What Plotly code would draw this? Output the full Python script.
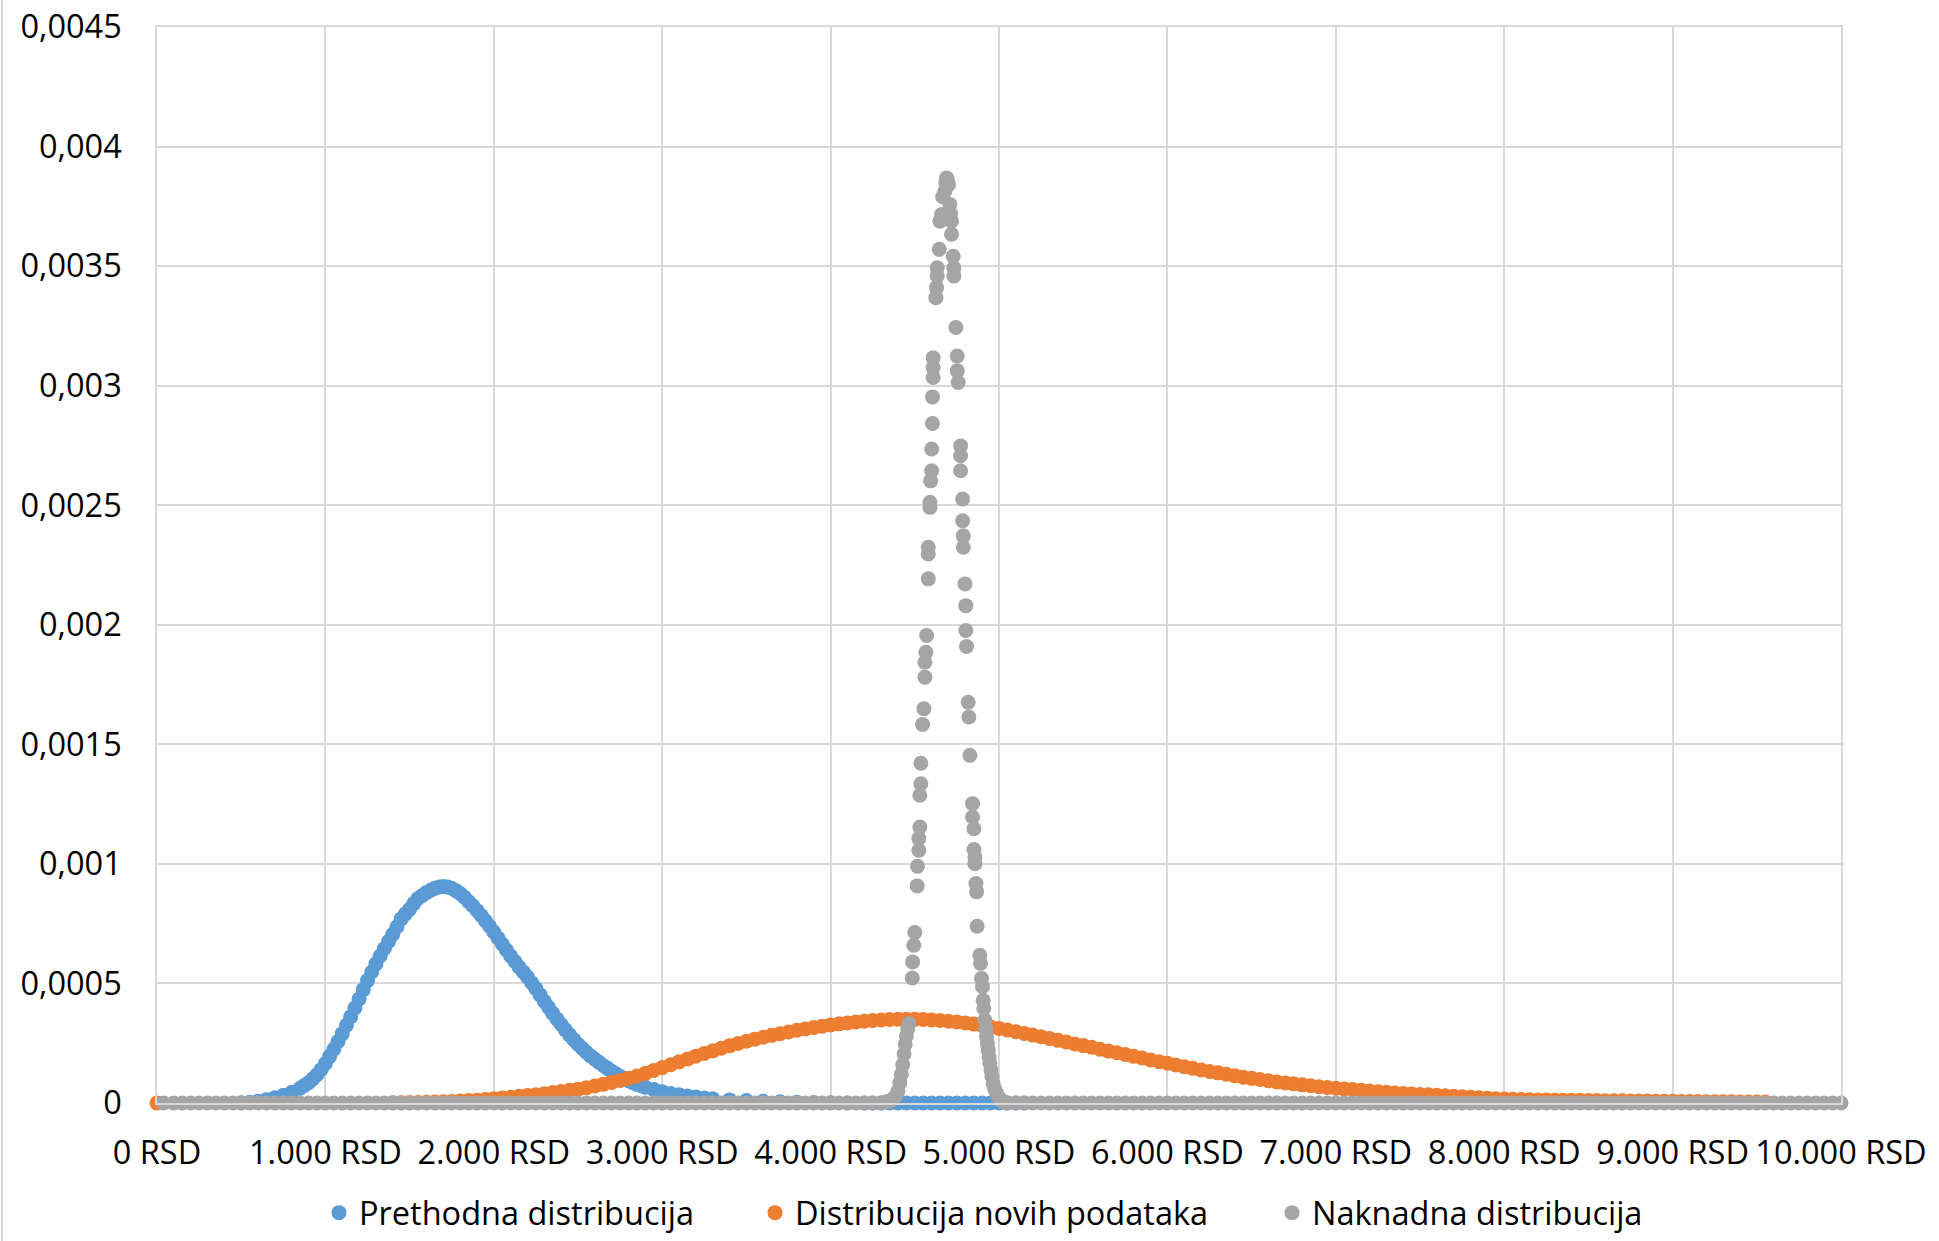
import plotly.graph_objects as go

# ---------------- data ----------------
series_names = ["Prethodna distribucija", "Distribucija novih podataka", "Naknadna distribucija"]
series_colors = ["#5B9BD5", "#ED7D31", "#A5A5A5"]

x_tick_vals = [0, 1000, 2000, 3000, 4000, 5000, 6000, 7000, 8000, 9000, 10000]
x_tick_text = ["0 RSD", "1.000 RSD", "2.000 RSD", "3.000 RSD", "4.000 RSD", "5.000 RSD",
               "6.000 RSD", "7.000 RSD", "8.000 RSD", "9.000 RSD", "10.000 RSD"]
y_tick_vals = [0, 0.0005, 0.001, 0.0015, 0.002, 0.0025, 0.003, 0.0035, 0.004, 0.0045]
y_tick_text = ["0", "0,0005", "0,001", "0,0015", "0,002", "0,0025", "0,003", "0,0035", "0,004", "0,0045"]

# Prior (blue)
prior_x = [
    500, 550, 600, 650, 700, 750, 800, 850,
    875, 900, 925, 950, 975, 1000, 1025, 1050, 1075,
    1100, 1125, 1150, 1175, 1200, 1225, 1250, 1275, 1300,
    1325, 1350, 1375, 1400, 1425, 1450, 1475, 1500, 1525,
    1550, 1575, 1600, 1625, 1650, 1675, 1700, 1725, 1750,
    1775, 1800, 1825, 1850, 1875, 1900, 1925, 1950, 1975,
    2000, 2025, 2050, 2075, 2100, 2125, 2150, 2175, 2200,
    2225, 2250, 2275, 2300, 2325, 2350, 2375, 2400, 2425,
    2450, 2475, 2500, 2525, 2550, 2575, 2600, 2625, 2650,
    2675, 2700, 2725, 2750, 2775, 2800, 2825, 2850, 2875,
    2900, 2950, 3000, 3050, 3100, 3150, 3200, 3250, 3300,
    3400, 3500, 3600, 3700, 3800, 3900, 4000, 4100, 4200,
    4250, 4300, 4350, 4400, 4450, 4500, 4550, 4600, 4650, 4700,
    4750, 4800, 4850, 4900, 4950, 5000, 5050, 5100, 5150,
]
prior_y = [
    0.000001, 0.000003, 0.000007, 0.000014, 0.000022, 0.000032, 0.000045, 0.000062,
    0.000073, 0.000085, 0.000101, 0.000118, 0.000140, 0.000165, 0.000194, 0.000225, 0.000257,
    0.000290, 0.000325, 0.000360, 0.000397, 0.000435, 0.000474, 0.000512, 0.000548, 0.000582,
    0.000615, 0.000646, 0.000676, 0.000705, 0.000737, 0.000770, 0.000791, 0.000810, 0.000834,
    0.000855, 0.000868, 0.000880, 0.000890, 0.000898, 0.000903, 0.000905, 0.000903, 0.000898,
    0.000888, 0.000876, 0.000861, 0.000843, 0.000825, 0.000805, 0.000784, 0.000762, 0.000739,
    0.000715, 0.000690, 0.000665, 0.000640, 0.000615, 0.000592, 0.000569, 0.000548, 0.000527,
    0.000503, 0.000478, 0.000452, 0.000425, 0.000400, 0.000375, 0.000351, 0.000328, 0.000306,
    0.000285, 0.000265, 0.000246, 0.000229, 0.000212, 0.000197, 0.000183, 0.000170, 0.000157,
    0.000145, 0.000133, 0.000122, 0.000111, 0.000102, 0.000093, 0.000085, 0.000078, 0.000072,
    0.000066, 0.000056, 0.000047, 0.000040, 0.000034, 0.000029, 0.000025, 0.000021, 0.000018,
    0.000013, 0.000010, 0.000007, 0.000005, 0.000003, 0.000002, 0.000001, 0, 0,
    0, 0, 0, 0, 0, 0, 0, 0, 0, 0,
    0, 0, 0, 0, 0, 0, 0, 0, 0,
]

# New data (orange)
data_x = [
    0,
    1400, 1450, 1500, 1550, 1600, 1650, 1700, 1750, 1800, 1850,
    1900, 1950, 2000, 2050, 2100, 2150, 2200, 2250, 2300, 2350,
    2400, 2450, 2500, 2550, 2600, 2650, 2700, 2750, 2800, 2850,
    2900, 2950, 3000, 3050, 3100, 3150, 3200, 3250, 3300, 3350,
    3400, 3450, 3500, 3550, 3600, 3650, 3700, 3750, 3800, 3850,
    3900, 3950, 4000, 4050, 4100, 4150, 4200, 4250, 4300, 4350,
    4400, 4450, 4500, 4550, 4600, 4650, 4700, 4750, 4800, 4850,
    4900, 4950, 5000, 5050, 5100, 5150, 5200, 5250, 5300, 5350,
    5400, 5450, 5500, 5550, 5600, 5650, 5700, 5750, 5800, 5850,
    5900, 5950, 6000, 6050, 6100, 6150, 6200, 6250, 6300, 6350,
    6400, 6450, 6500, 6550, 6600, 6650, 6700, 6750, 6800, 6850,
    6900, 6950, 7000, 7050, 7100, 7150, 7200, 7250, 7300, 7350,
    7400, 7450, 7500, 7550, 7600, 7650, 7700, 7750, 7800, 7850,
    7900, 7950, 8000, 8050, 8100, 8150, 8200, 8250, 8300, 8350,
    8400, 8450, 8500, 8550, 8600, 8650, 8700, 8750, 8800, 8850,
    8900, 8950, 9000, 9050, 9100, 9150, 9200, 9250, 9300, 9350,
    9400, 9450, 9500, 9550,
]
data_y = [
    0,
    0.000001, 0.000001, 0.000002, 0.000002, 0.000003, 0.000004, 0.000005, 0.000006, 0.000008, 0.000010,
    0.000012, 0.000015, 0.000018, 0.000021, 0.000024, 0.000028, 0.000031, 0.000035, 0.000039, 0.000044,
    0.000048, 0.000053, 0.000058, 0.000064, 0.000071, 0.000078, 0.000086, 0.000094, 0.000103, 0.000113,
    0.000124, 0.000136, 0.000148, 0.000160, 0.000172, 0.000184, 0.000196, 0.000207, 0.000218, 0.000229,
    0.000239, 0.000249, 0.000258, 0.000267, 0.000275, 0.000283, 0.000290, 0.000297, 0.000304, 0.000310,
    0.000316, 0.000321, 0.000326, 0.000331, 0.000335, 0.000339, 0.000342, 0.000345, 0.000347, 0.000349,
    0.000350, 0.000350, 0.000350, 0.000349, 0.000347, 0.000345, 0.000342, 0.000339, 0.000335, 0.000330,
    0.000324, 0.000318, 0.000312, 0.000305, 0.000298, 0.000291, 0.000284, 0.000277, 0.000270, 0.000262,
    0.000255, 0.000247, 0.000240, 0.000233, 0.000225, 0.000217, 0.000210, 0.000203, 0.000195, 0.000188,
    0.000180, 0.000173, 0.000166, 0.000159, 0.000152, 0.000145, 0.000138, 0.000132, 0.000126, 0.000120,
    0.000114, 0.000108, 0.000103, 0.000098, 0.000093, 0.000088, 0.000084, 0.000080, 0.000076, 0.000072,
    0.000068, 0.000065, 0.000062, 0.000059, 0.000056, 0.000053, 0.000050, 0.000047, 0.000045, 0.000042,
    0.000040, 0.000038, 0.000036, 0.000034, 0.000032, 0.000030, 0.000028, 0.000026, 0.000024, 0.000022,
    0.000020, 0.000018, 0.000017, 0.000016, 0.000015, 0.000014, 0.000013, 0.000013, 0.000012, 0.000012,
    0.000011, 0.000011, 0.000010, 0.000010, 0.000009, 0.000009, 0.000009, 0.000008, 0.000008, 0.000008,
    0.000007, 0.000007, 0.000007, 0.000006, 0.000006, 0.000006, 0.000005, 0.000005, 0.000005, 0.000005,
    0.000004, 0.000004, 0.000004, 0.000004,
]

# Posterior (gray): flat left tail, peak, flat right tail
post_left_x = [
    40, 100, 150, 200, 250, 300, 350, 400, 450, 500,
    550, 600, 650, 700, 750, 800, 850, 900, 950, 1000,
    1050, 1100, 1150, 1200, 1250, 1300, 1350, 1400, 1450, 1500,
    1550, 1600, 1650, 1700, 1750, 1800, 1850, 1900, 1950, 2000,
    2050, 2100, 2150, 2200, 2250, 2300, 2350, 2400, 2450, 2500,
    2550, 2600, 2650, 2700, 2750, 2800, 2850, 2900, 2950, 3000,
    3050, 3100, 3150, 3200, 3250, 3300, 3350, 3400, 3450, 3500,
    3550, 3600, 3650, 3700, 3750, 3800, 3850, 3900, 3950, 4000,
    4050, 4100, 4150, 4200, 4250,
]
post_left_y = [
    0, 0, 0, 0, 0, 0, 0, 0, 0, 0,
    0, 0, 0, 0, 0, 0, 0, 0, 0, 0,
    0, 0, 0, 0, 0, 0, 0, 0, 0, 0,
    0, 0, 0, 0, 0, 0, 0, 0, 0, 0,
    0, 0, 0, 0, 0, 0, 0, 0, 0, 0,
    0, 0, 0, 0, 0, 0, 0, 0, 0, 0,
    0, 0, 0, 0, 0, 0, 0, 0, 0, 0,
    0, 0, 0, 0, 0, 0, 0, 0, 0, 0,
    0, 0, 0, 0, 0,
]
post_peak_x = [
    4300, 4330, 4350, 4370, 4385, 4400, 4411, 4420, 4428, 4436, 4443, 4450, 4458, 4466,
    4485, 4487, 4494, 4500, 4514, 4516, 4524, 4524, 4530, 4530, 4536, 4536,
    4546, 4554, 4560, 4560, 4566, 4570, 4580, 4580, 4580, 4590, 4590, 4594,
    4600, 4600, 4605, 4605, 4609, 4609, 4609, 4625, 4629, 4633, 4633, 4645,
    4649, 4659, 4665, 4679, 4684, 4689, 4694, 4700, 4708, 4712, 4718, 4718,
    4728, 4732, 4732, 4744, 4752, 4752, 4758, 4772, 4772, 4772, 4784, 4784,
    4788, 4788, 4798, 4803, 4803, 4807, 4817, 4821, 4827, 4843, 4843, 4851,
    4851, 4857, 4857, 4863, 4867, 4870, 4886, 4890, 4896, 4902, 4906, 4910,
    4916, 4922, 4926, 4931, 4936, 4941, 4946, 4952, 4958, 4965, 4975, 4986, 5000, 5015, 5030, 5045,
]
post_peak_y = [
    0, 0.000004, 0.000008, 0.000016, 0.000028, 0.000050, 0.000085, 0.000120, 0.000160, 0.000205, 0.000245, 0.000280, 0.000310, 0.000333,
    0.000523, 0.000590, 0.000660, 0.000713, 0.000908, 0.000990, 0.001057, 0.001106, 0.001154, 0.001287, 0.001335, 0.001421,
    0.001583, 0.001649, 0.001781, 0.001843, 0.001885, 0.001955, 0.002192, 0.002296, 0.002324, 0.002491, 0.002512, 0.002602,
    0.002644, 0.002735, 0.002842, 0.002953, 0.003034, 0.003076, 0.003117, 0.003368, 0.003410, 0.003459, 0.003493, 0.003570,
    0.003688, 0.003716, 0.003790, 0.003814, 0.003850, 0.003869, 0.003860, 0.003840, 0.003758, 0.003720, 0.003688, 0.003633,
    0.003541, 0.003493, 0.003459, 0.003243, 0.003124, 0.003062, 0.003013, 0.002748, 0.002707, 0.002644, 0.002526, 0.002435,
    0.002372, 0.002324, 0.002171, 0.002080, 0.001976, 0.001909, 0.001676, 0.001614, 0.001454, 0.001252, 0.001196, 0.001147,
    0.001060, 0.001029, 0.001001, 0.000918, 0.000883, 0.000739, 0.000618, 0.000584, 0.000521, 0.000486, 0.000430, 0.000396,
    0.000347, 0.000310, 0.000277, 0.000248, 0.000221, 0.000192, 0.000166, 0.000138, 0.000112, 0.000082, 0.000058, 0.000041, 0.000022, 0.000010, 0.000004, 0,
]
post_right_x = [
    5100, 5150, 5200, 5250, 5300, 5350, 5400, 5450, 5500, 5550,
    5600, 5650, 5700, 5750, 5800, 5850, 5900, 5950, 6000, 6050,
    6100, 6150, 6200, 6250, 6300, 6350, 6400, 6450, 6500, 6550,
    6600, 6650, 6700, 6750, 6800, 6850, 6900, 6950, 7000, 7050,
    7100, 7150, 7200, 7250, 7300, 7350, 7400, 7450, 7500, 7550,
    7600, 7650, 7700, 7750, 7800, 7850, 7900, 7950, 8000, 8050,
    8100, 8150, 8200, 8250, 8300, 8350, 8400, 8450, 8500, 8550,
    8600, 8650, 8700, 8750, 8800, 8850, 8900, 8950, 9000, 9050,
    9100, 9150, 9200, 9250, 9300, 9350, 9400, 9450, 9500, 9550,
    9600, 9650, 9700, 9750, 9800, 9850, 9900, 9950, 10000,
]
post_right_y = [
    0, 0, 0, 0, 0, 0, 0, 0, 0, 0,
    0, 0, 0, 0, 0, 0, 0, 0, 0, 0,
    0, 0, 0, 0, 0, 0, 0, 0, 0, 0,
    0, 0, 0, 0, 0, 0, 0, 0, 0, 0,
    0, 0, 0, 0, 0, 0, 0, 0, 0, 0,
    0, 0, 0, 0, 0, 0, 0, 0, 0, 0,
    0, 0, 0, 0, 0, 0, 0, 0, 0, 0,
    0, 0, 0, 0, 0, 0, 0, 0, 0, 0,
    0, 0, 0, 0, 0, 0, 0, 0, 0, 0,
    0, 0, 0, 0, 0, 0, 0, 0, 0,
]

post_x = post_left_x + post_peak_x + post_right_x
post_y = post_left_y + post_peak_y + post_right_y

# ---------------- figure ----------------
FONT = "Open Sans"
FSIZE = 32.5
W, H = 1939, 1241
legend_ids = ["legend", "legend2", "legend3"]
legend_left_px = [319, 755, 1272]   # left edges of the three legend entries
legend_mid_px = 1213                 # vertical centre of legend row

fig = go.Figure()
for name, color, xs, ys, lid in zip(series_names, series_colors,
                                    [prior_x, data_x, post_x], [prior_y, data_y, post_y],
                                    legend_ids):
    fig.add_trace(go.Scatter(
        x=xs, y=ys, mode="markers", name=name, legend=lid,
        marker=dict(size=15, color=color, line=dict(width=0)),
        cliponaxis=False,
    ))

legend_layouts = {}
for lid, lx in zip(legend_ids, legend_left_px):
    legend_layouts[lid] = dict(
        orientation="h", xref="container", yref="container",
        x=lx / W, xanchor="left", y=1 - legend_mid_px / H, yanchor="middle",
        font=dict(family=FONT, size=FSIZE, color="#000000"),
        bgcolor="rgba(0,0,0,0)", borderwidth=0,
    )

grid = "#D9D9D9"
fig.update_layout(
    width=W, height=H,
    margin=dict(l=157, r=98, t=27, b=138, pad=0, autoexpand=False),
    paper_bgcolor="white", plot_bgcolor="white",
    font=dict(family=FONT, size=FSIZE, color="#000000"),
    showlegend=True,
    xaxis=dict(range=[0, 10000], tickmode="array", tickvals=x_tick_vals, ticktext=x_tick_text,
               showgrid=True, gridcolor=grid, gridwidth=1.5, zeroline=False,
               showline=True, mirror=True, linecolor=grid, linewidth=1.5,
               ticks="", ticklabelstandoff=20, fixedrange=True, automargin=False),
    yaxis=dict(range=[0, 0.0045], tickmode="array", tickvals=y_tick_vals, ticktext=y_tick_text,
               showgrid=True, gridcolor=grid, gridwidth=1.5, zeroline=False,
               showline=True, mirror=True, linecolor=grid, linewidth=1.5,
               ticks="", ticklabelstandoff=27, fixedrange=True, automargin=False),
    shapes=[dict(type="line", xref="paper", yref="paper",
                 x0=-0.0920, x1=-0.0920, y0=-0.2, y1=1.1,
                 line=dict(color=grid, width=2))],
    **legend_layouts,
)

fig.write_html("out.html")
